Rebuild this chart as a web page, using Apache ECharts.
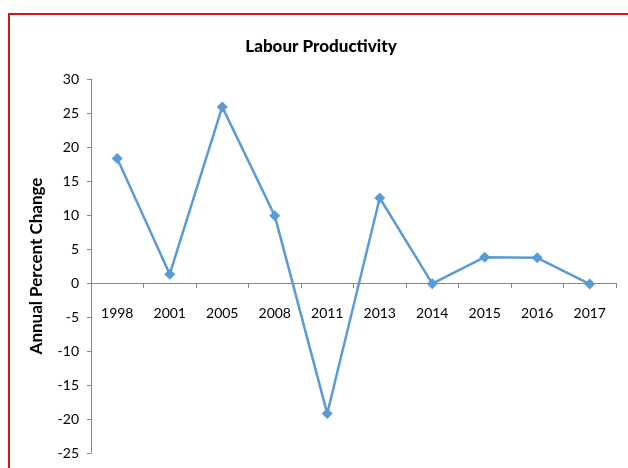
<!DOCTYPE html>
<html>
<head>
<meta charset="utf-8">
<script src="https://cdn.jsdelivr.net/npm/echarts@6/dist/echarts.min.js"></script>
<style>
html,body{margin:0;padding:0;background:#fff;}
#c{width:628px;height:468px;}
</style>
</head>
<body>
<div id="c"></div>
<script>
const years = ['1998','2001','2005','2008','2011','2013','2014','2015','2016','2017'];
const productivity = [18.3, 1.3, 25.9, 9.9, -19.2, 12.5, -0.1, 3.8, 3.7, -0.15];
const yTicks = {min: -25, max: 30, step: 5};

const FONT = 'Lato, "Open Sans", sans-serif';
const GRID = {left: 91, right: 12, top: 79, bottom: 15};
const plotH = 468 - GRID.top - GRID.bottom;
const zeroFromBottom = plotH * (0 - yTicks.min) / (yTicks.max - yTicks.min);

const chart = echarts.init(document.getElementById('c'));
chart.setOption({
  animation: false,
  backgroundColor: '#fff',
  title: {
    text: 'Labour Productivity',
    left: 316, top: 33, textAlign: 'center',
    textStyle: {fontFamily: FONT, fontWeight: 900, fontSize: 17, color: '#000'}
  },
  graphic: [{
    type: 'rect', shape: {x: 9, y: 14, width: 640, height: 480},
    style: {fill: 'none', stroke: '#d01818', lineWidth: 2}, z: 100
  }],
  grid: Object.assign({containLabel: false, outerBoundsMode: 'none'}, GRID),
  xAxis: {
    type: 'category', data: years, boundaryGap: true,
    offset: -zeroFromBottom,
    axisLine: {onZero: false, lineStyle: {color: '#868686', width: 1}},
    axisTick: {show: true, inside: false, length: 5, lineStyle: {color: '#868686'}},
    axisLabel: {fontFamily: FONT, fontSize: 14, color: '#000', margin: 23},
    splitLine: {show: false}
  },
  yAxis: {
    type: 'value', min: yTicks.min, max: yTicks.max, interval: yTicks.step,
    name: 'Annual Percent Change', nameLocation: 'middle', nameRotate: 90, nameGap: 46,
    nameTextStyle: {fontFamily: FONT, fontWeight: 'bold', fontSize: 17, color: '#000'},
    axisLine: {show: true, lineStyle: {color: '#868686', width: 1}},
    axisTick: {show: true, length: 4, lineStyle: {color: '#868686'}},
    axisLabel: {fontFamily: FONT, fontSize: 14, color: '#000', margin: 12},
    splitLine: {show: false}
  },
  series: [{
    type: 'line', data: productivity,
    symbol: 'diamond', symbolSize: 11,
    lineStyle: {color: '#5B9BD5', width: 2.5},
    itemStyle: {color: '#5B9BD5'}
  }]
});
</script>
</body>
</html>
